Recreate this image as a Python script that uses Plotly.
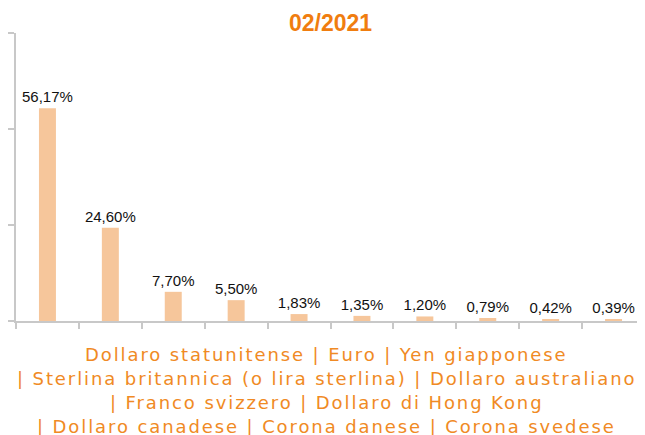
import plotly.graph_objects as go

categories = ["Dollaro statunitense", "Euro", "Yen giapponese",
              "Sterlina britannica (o lira sterlina)", "Dollaro australiano",
              "Franco svizzero", "Dollaro di Hong Kong",
              "Dollaro canadese", "Corona danese", "Corona svedese"]
values = [56.17, 24.60, 7.70, 5.50, 1.83, 1.35, 1.20, 0.79, 0.42, 0.39]
title_text = "02/2021"
line_groups = [(0, 3), (3, 5), (5, 7), (7, 10)]

labels = [f"{v:.2f}".replace(".", ",") + "%" for v in values]

fig = go.Figure(go.Bar(
    x=categories, y=values, text=labels, textposition="outside",
    constraintext="none",
    marker=dict(color="#F6C69B", line=dict(width=0)),
    textfont=dict(family="Liberation Sans, Arial", size=15, color="#111111"),
    cliponaxis=False, width=0.27,
))

ORANGE = "#F08A24"
W, H = 645, 435
OFF = 8  # page body margin
ml, mr, mt, mb = 16 - OFF, OFF, 33 - OFF, H - (321 - OFF)

fig.update_layout(
    width=W, height=H, margin=dict(l=ml, r=mr, t=mt, b=mb, autoexpand=False),
    paper_bgcolor="white", plot_bgcolor="white", showlegend=False,
    title=dict(text=f"<b>{title_text}</b>", x=0.5, xref="paper", y=1 - (23 - OFF) / H,
               yanchor="middle", xanchor="center",
               font=dict(family="Liberation Sans, Arial", size=23, color="#F07D0F")),
)
fig.update_xaxes(showticklabels=False, showline=True, linecolor="#C8C8C8", linewidth=2,
                 ticks="outside", tickson="boundaries", ticklen=6, tickcolor="#C8C8C8",
                 tickwidth=2, showgrid=False, zeroline=False, automargin=False)
fig.update_yaxes(range=[0, 76], tickvals=[0, 76 / 3, 152 / 3, 76], showticklabels=False,
                 showline=True, linecolor="#C8C8C8", linewidth=2, ticks="outside",
                 ticklen=6, tickcolor="#C8C8C8", tickwidth=2, showgrid=False, zeroline=False,
                 automargin=False)

plot_w = W - ml - mr
plot_h = H - mt - mb
for i, (a, b) in enumerate(line_groups):
    txt = " | ".join(categories[a:b])
    if i > 0:
        txt = "| " + txt
    ypix = 354 + 24 * i - OFF
    fig.add_annotation(text=f'<span style="letter-spacing:1.9px">{txt}</span>',
                       xref="paper", yref="paper", x=(326 - OFF - ml) / plot_w,
                       y=(H - mb - ypix) / plot_h, xanchor="center", yanchor="middle",
                       showarrow=False,
                       font=dict(family="DejaVu Sans", size=18, color=ORANGE))

fig.write_html("out.html")
